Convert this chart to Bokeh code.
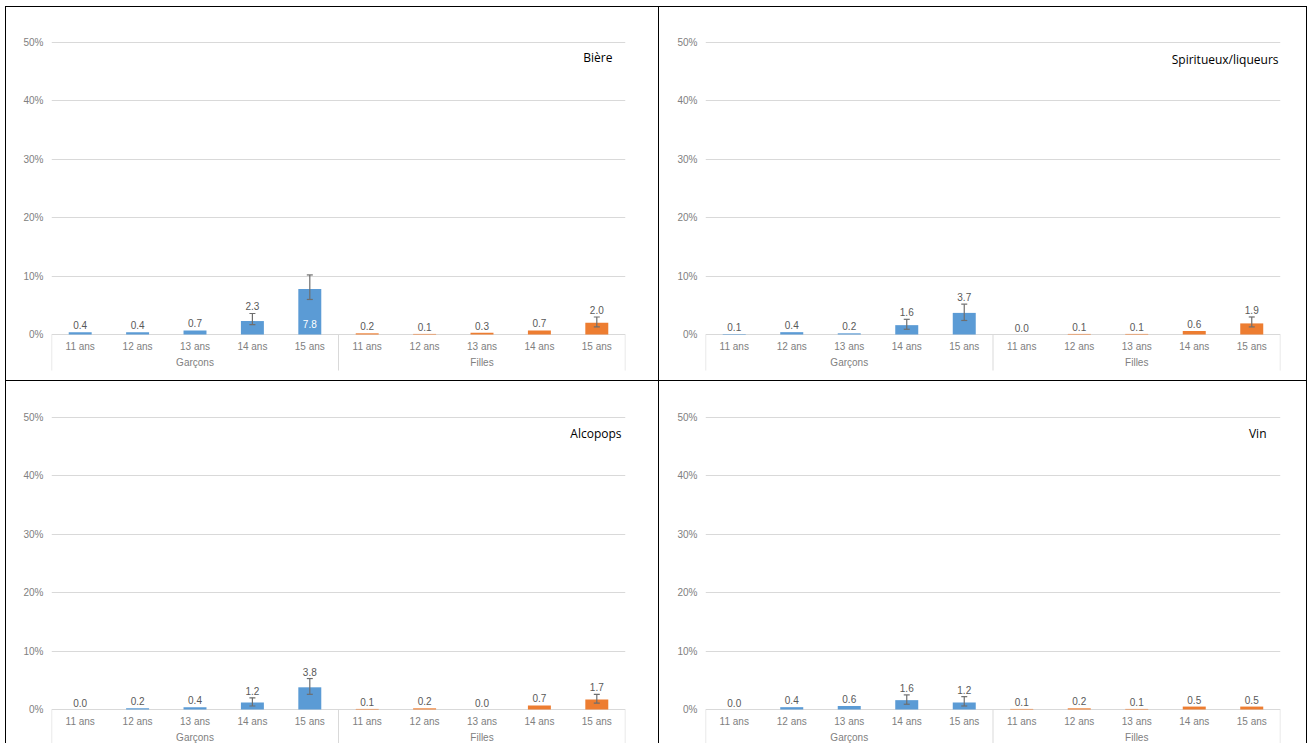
from bokeh.plotting import figure
from bokeh.models import (ColumnDataSource, FactorRange, Range1d, FixedTicker,
                          PrintfTickFormatter, Whisker, TeeHead, Spacer)
from bokeh.layouts import column, row
from bokeh.embed import file_html
from bokeh.resources import INLINE
from bokeh.core.properties import value

# ---------------- data ----------------
groups = ["Garçons", "Filles"]
ages = ["11 ans", "12 ans", "13 ans", "14 ans", "15 ans"]

titles = ["Bière", "Spiritueux/liqueurs", "Alcopops", "Vin"]

biere_garcons = [0.4, 0.4, 0.7, 2.3, 7.8]
biere_filles = [0.2, 0.1, 0.3, 0.7, 2.0]
biere_garcons_lo = [None, None, None, 1.7, 6.0]
biere_garcons_hi = [None, None, None, 3.6, 10.2]
biere_filles_lo = [None, None, None, None, 1.3]
biere_filles_hi = [None, None, None, None, 3.0]

spiritueux_garcons = [0.1, 0.4, 0.2, 1.6, 3.7]
spiritueux_filles = [0.0, 0.1, 0.1, 0.6, 1.9]
spiritueux_garcons_lo = [None, None, None, 0.9, 2.4]
spiritueux_garcons_hi = [None, None, None, 2.6, 5.2]
spiritueux_filles_lo = [None, None, None, None, 1.3]
spiritueux_filles_hi = [None, None, None, None, 3.0]

alcopops_garcons = [0.0, 0.2, 0.4, 1.2, 3.8]
alcopops_filles = [0.1, 0.2, 0.0, 0.7, 1.7]
alcopops_garcons_lo = [None, None, None, 0.6, 2.6]
alcopops_garcons_hi = [None, None, None, 2.0, 5.3]
alcopops_filles_lo = [None, None, None, None, 1.1]
alcopops_filles_hi = [None, None, None, None, 2.6]

vin_garcons = [0.0, 0.4, 0.6, 1.6, 1.2]
vin_filles = [0.1, 0.2, 0.1, 0.5, 0.5]
vin_garcons_lo = [None, None, None, 0.9, 0.6]
vin_garcons_hi = [None, None, None, 2.5, 2.2]
vin_filles_lo = [None, None, None, None, None]
vin_filles_hi = [None, None, None, None, None]

# labels drawn inside the bar (white)
inside_labels = {"Bière": [("Garçons", "15 ans")]}

y_ticks = [0, 10, 20, 30, 40, 50]

# ---------------- styles ----------------
BLUE = "#5B9BD5"
ORANGE = "#ED7D31"
GRID = "#D9D9D9"
AXIS_TXT = "#808080"
LABEL_TXT = "#595959"
ERR = "#6E6E6E"
FONT = "Liberation Sans"

TOP_ROW = dict(H=374, zero=328, top50=36)
BOTTOM_ROW = dict(H=363, zero=329, top50=37)
LEFT_COL = dict(W=654, left=46, right=34)
RIGHT_COL = dict(W=648, left=46, right=27)
TITLE_OFFSETS = {"Bière": (-13, 15), "Spiritueux/liqueurs": (-2, 17),
                 "Alcopops": (-4, 16), "Vin": (-14, 16)}
SEP_PX = 36
TICK_DY = 12
GROUP_DY = 28


def make_panel(title, g_vals, f_vals, g_lo, g_hi, f_lo, f_hi, rowg, colg, border):
    H, zero, top50 = rowg["H"], rowg["zero"], rowg["top50"]
    W, left, right = colg["W"], colg["left"], colg["right"]
    ppu = (zero - top50) / 50.0
    factors = [(g, a) for g in groups for a in ages]
    x_range = FactorRange(*factors, factor_padding=0, group_padding=0,
                          subgroup_padding=0, range_padding=0)
    y_range = Range1d(-(H - zero) / ppu, 50 + 2 / ppu)
    p = figure(width=W, height=H, x_range=x_range, y_range=y_range,
               output_backend="svg", toolbar_location=None, tools="",
               x_axis_location=None,
               min_border_left=left, min_border_right=right,
               min_border_top=top50 - 2, min_border_bottom=0)
    p.outline_line_color = None
    p.border_fill_color = None
    p.background_fill_color = None
    p.styles = {"box-shadow": border}

    p.xgrid.visible = False
    p.ygrid.grid_line_color = GRID
    p.ygrid.grid_line_width = 1

    ax = p.yaxis[0]
    ax.ticker = FixedTicker(ticks=y_ticks)
    ax.formatter = PrintfTickFormatter(format="%d%%")
    ax.axis_line_color = None
    ax.major_tick_line_color = None
    ax.minor_tick_line_color = None
    ax.major_tick_out = 0
    ax.major_tick_in = 0
    ax.major_label_standoff = 8
    ax.major_label_text_font = FONT
    ax.major_label_text_font_size = "10px"
    ax.major_label_text_color = AXIS_TXT

    vals = list(g_vals) + list(f_vals)
    los = list(g_lo) + list(f_lo)
    his = list(g_hi) + list(f_hi)
    colors = [BLUE] * len(g_vals) + [ORANGE] * len(f_vals)

    src = ColumnDataSource(dict(x=factors, v=vals, c=colors))
    p.vbar(x="x", top="v", width=0.4, fill_color="c", line_color=None, source=src)

    # error bars
    ex, el, eh = [], [], []
    for f, lo, hi in zip(factors, los, his):
        if lo is not None and hi is not None:
            ex.append(f); el.append(lo); eh.append(hi)
    if ex:
        esrc = ColumnDataSource(dict(x=ex, lo=el, hi=eh))
        w = Whisker(base="x", lower="lo", upper="hi", source=esrc, level="annotation",
                    line_color=ERR, line_width=1.2,
                    upper_head=TeeHead(size=6, line_color=ERR, line_width=1.2),
                    lower_head=TeeHead(size=6, line_color=ERR, line_width=1.2))
        p.add_layout(w)

    # data labels
    ins = inside_labels.get(title, [])
    ox, oy, ot, ix, it = [], [], [], [], []
    for f, v, hi in zip(factors, vals, his):
        if f in ins:
            ix.append(f); it.append(f"{v:.1f}")
        else:
            ox.append(f)
            oy.append(max(v, hi) if hi is not None else v)
            ot.append(f"{v:.1f}")
    p.text(x="x", y="y", text="t", source=ColumnDataSource(dict(x=ox, y=oy, t=ot)),
           text_align="center", text_baseline="bottom", y_offset=-3,
           text_font=value(FONT), text_font_size="10px", text_color=LABEL_TXT)
    if ix:
        p.text(x="x", y="y", text="t",
               source=ColumnDataSource(dict(x=ix, y=[0] * len(ix), t=it)),
               text_align="center", text_baseline="middle", y_offset=-11,
               text_font=value(FONT), text_font_size="10px", text_color="white")

    # category axis labels (ages)
    p.text(x="x", y="y", text="t",
           source=ColumnDataSource(dict(x=factors, y=[0] * len(factors),
                                        t=[a for _, a in factors])),
           text_align="center", text_baseline="middle", y_offset=TICK_DY,
           text_font=value(FONT), text_font_size="10px", text_color=AXIS_TXT)
    # group labels
    p.text(x="x", y="y", text="t",
           source=ColumnDataSource(dict(x=list(groups), y=[0] * len(groups), t=list(groups))),
           text_align="center", text_baseline="middle", y_offset=GROUP_DY,
           text_font=value(FONT), text_font_size="10px", text_color=AXIS_TXT)
    # group separators
    seps = [(groups[0], ages[0], -0.497), (groups[1], ages[0], -0.5), (groups[1], ages[-1], 0.497)]
    p.segment(x0="x", x1="x", y0="y0", y1="y1",
              source=ColumnDataSource(dict(x=seps, y0=[0] * 3, y1=[-SEP_PX / ppu] * 3)),
              line_color=GRID, line_width=1)

    # panel title
    dx, dy = TITLE_OFFSETS[title]
    p.text(x="x", y="y", text="t",
           source=ColumnDataSource(dict(x=[(groups[-1], ages[-1], 0.5)], y=[50], t=[title])),
           text_align="right", text_baseline="middle", x_offset=dx, y_offset=dy,
           text_font=value("Open Sans"), text_font_size="12px", text_color="black")
    return p


B_LEFT = "inset 1px 1px 0 0 #000, inset -1px 0 0 0 #000"
B_RIGHT = "inset 0 1px 0 0 #000, inset -1px 0 0 0 #000"

p1 = make_panel(titles[0], biere_garcons, biere_filles, biere_garcons_lo, biere_garcons_hi,
                biere_filles_lo, biere_filles_hi, TOP_ROW, LEFT_COL, B_LEFT)
p2 = make_panel(titles[1], spiritueux_garcons, spiritueux_filles, spiritueux_garcons_lo,
                spiritueux_garcons_hi, spiritueux_filles_lo, spiritueux_filles_hi,
                TOP_ROW, RIGHT_COL, B_RIGHT)
p3 = make_panel(titles[2], alcopops_garcons, alcopops_filles, alcopops_garcons_lo,
                alcopops_garcons_hi, alcopops_filles_lo, alcopops_filles_hi,
                BOTTOM_ROW, LEFT_COL, B_LEFT)
p4 = make_panel(titles[3], vin_garcons, vin_filles, vin_garcons_lo, vin_garcons_hi,
                vin_filles_lo, vin_filles_hi, BOTTOM_ROW, RIGHT_COL, B_RIGHT)

grid = column(row(p1, p2), row(p3, p4))
layout = column(Spacer(width=10, height=6), row(Spacer(width=5, height=10), grid))
open("out.html", "w").write(file_html(layout, INLINE))
